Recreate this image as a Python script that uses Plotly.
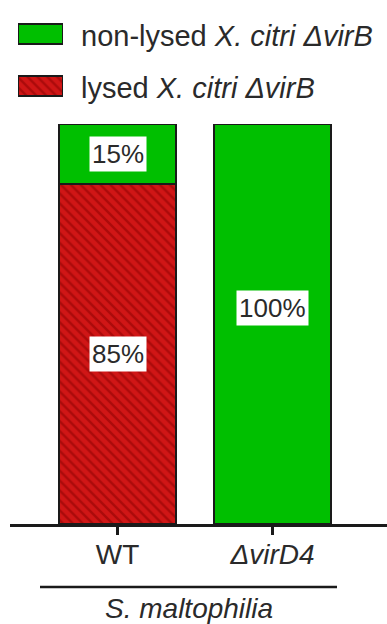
import plotly.graph_objects as go

# Data
strains = ["WT", "ΔvirD4"]
tick_text = ["WT", "<i>ΔvirD4</i>"]
lysed = [85, 0]
non_lysed = [15, 100]
series_names = ["non-lysed <i>X. citri ΔvirB</i>", "lysed <i>X. citri ΔvirB</i>"]
group_label = "<i>S. maltophilia</i>"

GREEN = "#00bf00"
RED = "#d01616"
DARK_RED = "#860000"
INK = "#2a2a2a"
W, H = 387, 624
FONT = "Liberation Sans, Arial"


def fx(p):
    return p / W


def fy(p):
    return (H - p) / H


hatch = dict(shape="\\", fgcolor=DARK_RED, bgcolor=RED, size=7, solidity=0.35)

fig = go.Figure()

# Stacked bars (lysed at bottom, non-lysed on top)
fig.add_trace(go.Bar(
    x=[0, 1], y=lysed, width=0.76, showlegend=False,
    marker=dict(color=RED, line=dict(color="#1a1a1a", width=2), pattern=hatch),
))
fig.add_trace(go.Bar(
    x=[0, 1], y=non_lysed, width=0.76, showlegend=False,
    marker=dict(color=GREEN, line=dict(color="#1a1a1a", width=2)),
))

# Percentage labels with white boxes; a full-height segment's label sits a bit above centre
for i in range(len(strains)):
    base = 0
    for val in (lysed[i], non_lysed[i]):
        if val > 0:
            fig.add_annotation(
                x=i, y=base + val / 2, xref="x", yref="y",
                yshift=16 if val == 100 else 0,
                text=f"{val}%", showarrow=False,
                font=dict(family=FONT, size=26, color=INK),
                bgcolor="white", borderpad=2,
            )
        base += val

# Legend swatches drawn as horizontal bars on a small helper axis
fig.add_trace(go.Bar(
    y=[0], x=[1], orientation="h", width=0.4, xaxis="x2", yaxis="y2",
    showlegend=False, hoverinfo="skip",
    marker=dict(color=GREEN, line=dict(color="#1a1a1a", width=2)),
))
fig.add_trace(go.Bar(
    y=[1], x=[1], orientation="h", width=0.4, xaxis="x2", yaxis="y2",
    showlegend=False, hoverinfo="skip",
    marker=dict(color=RED, line=dict(color="#1a1a1a", width=2), pattern=hatch),
))
for name, ypix in zip(series_names, [36, 88]):
    fig.add_annotation(
        x=fx(79), y=fy(ypix), xref="paper", yref="paper",
        xanchor="left", yanchor="middle", text=name, showarrow=False,
        font=dict(family=FONT, size=29, color=INK),
    )

# Group bracket line and label under the categories
fig.add_shape(type="line", xref="paper", yref="paper",
              x0=fx(40), x1=fx(337), y0=fy(587), y1=fy(587),
              line=dict(color="#1a1a1a", width=2.5))
fig.add_annotation(x=fx(189), y=fy(608), xref="paper", yref="paper",
                   xanchor="center", yanchor="middle",
                   text=group_label, showarrow=False,
                   font=dict(family=FONT, size=28, color=INK))

fig.update_layout(
    barmode="stack",
    width=W, height=H,
    margin=dict(l=0, r=0, t=0, b=0),
    plot_bgcolor="white", paper_bgcolor="white",
    xaxis=dict(
        domain=[fx(10), 1], anchor="y",
        range=[-0.694, 1.739], tickmode="array", tickvals=[0, 1],
        ticktext=tick_text, showgrid=False, zeroline=False,
        showline=True, linecolor="#1a1a1a", linewidth=2.5,
        ticks="outside", ticklen=8, tickwidth=2.5, tickcolor="#1a1a1a",
        tickfont=dict(family=FONT, size=28, color=INK),
        ticklabelstandoff=-4,
        automargin=False,
    ),
    yaxis=dict(domain=[fy(524), fy(124)], range=[0, 100], visible=False,
               anchor="x"),
    xaxis2=dict(domain=[fx(18), fx(63)], range=[0, 1], visible=False,
                anchor="y2"),
    yaxis2=dict(domain=[fy(112), fy(8)], range=[1.5, -0.5], visible=False,
                anchor="x2"),
    bargap=0,
)

fig.write_html("out.html")
